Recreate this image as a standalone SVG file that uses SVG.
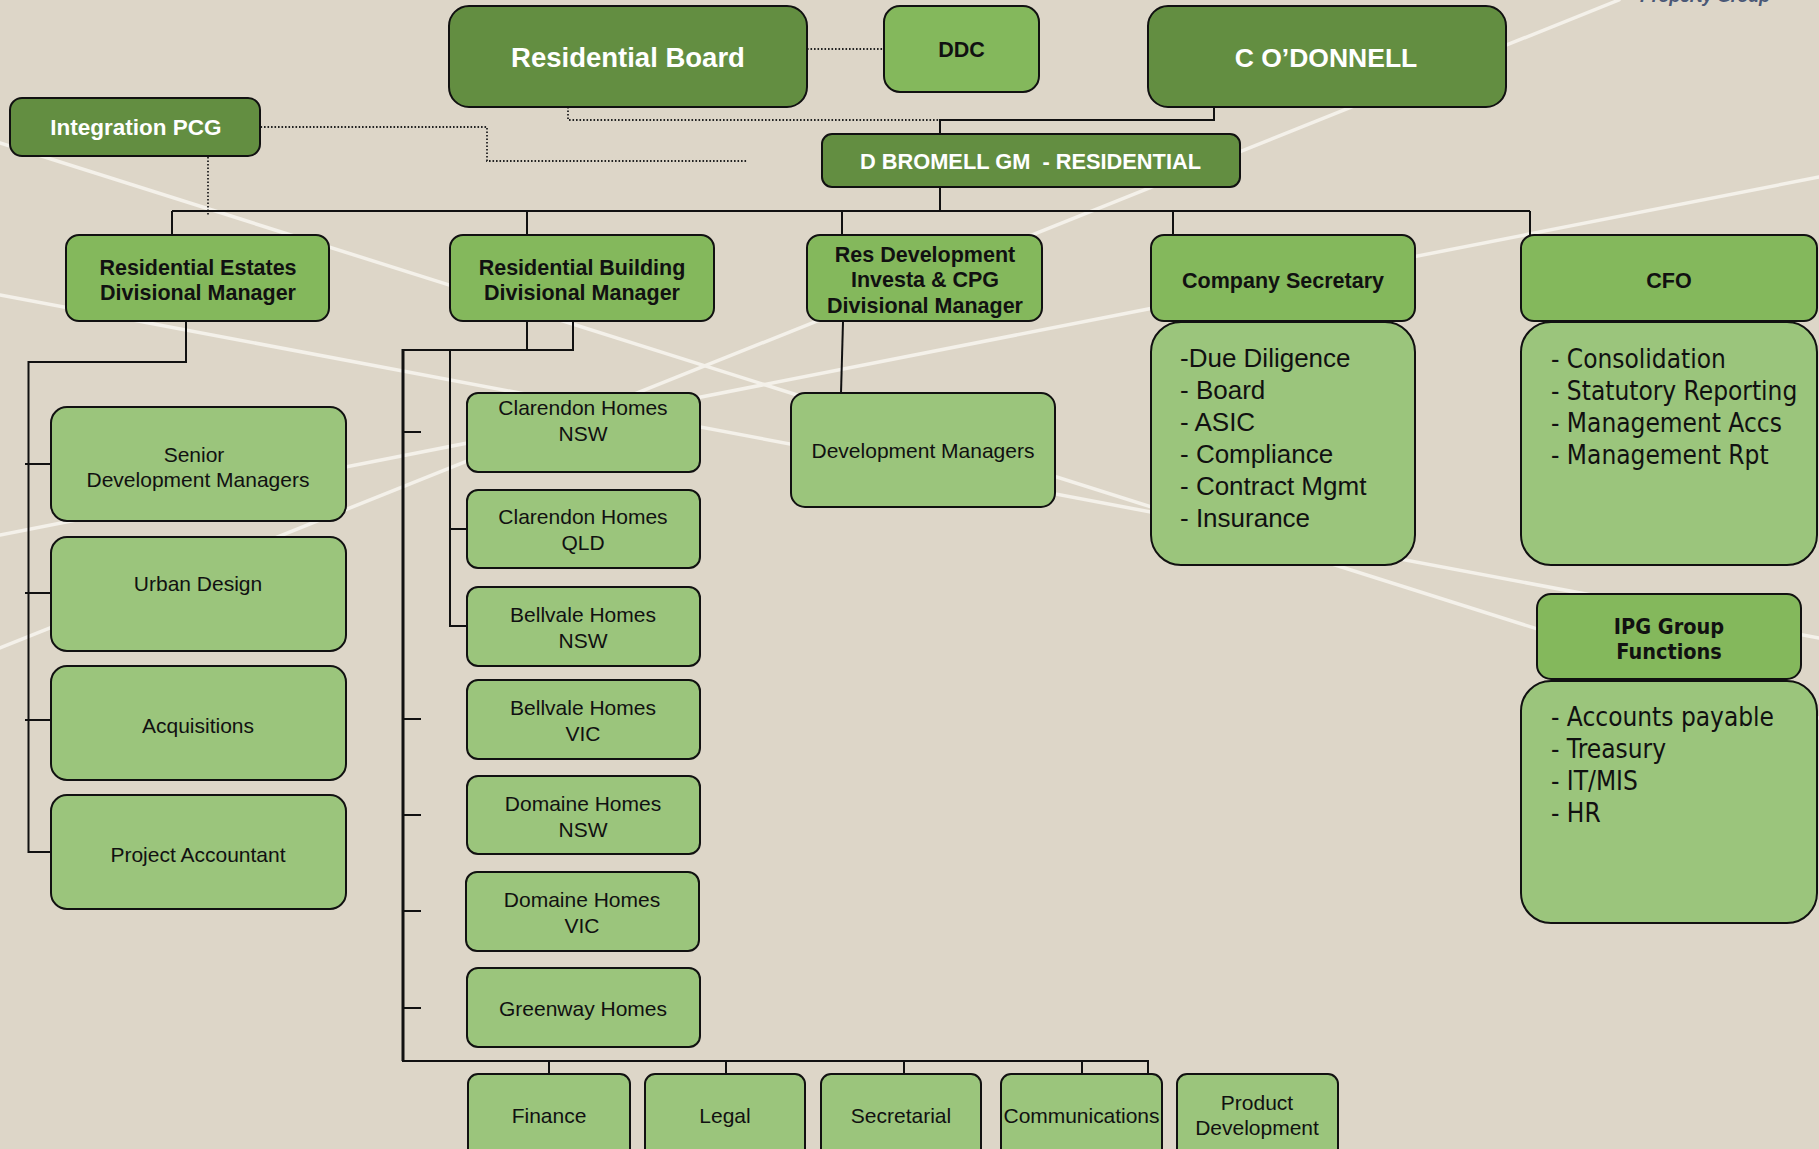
<svg xmlns="http://www.w3.org/2000/svg" width="1819" height="1149" viewBox="0 0 1819 1149">
<style>
.swoosh{stroke:#f4f1ea;stroke-width:3.5;fill:none;stroke-linecap:round}
.dark{fill:#638e41;stroke:#111;stroke-width:2}
.mid{fill:#84b85c;stroke:#111;stroke-width:2}
.light{fill:#9bc57c;stroke:#111;stroke-width:2}
.conn{stroke:#111;stroke-width:2;fill:none}
.thick{stroke:#111;stroke-width:3;fill:none}
.dot{stroke:#222;stroke-width:1.8;fill:none;stroke-dasharray:1.6 1.9}
.tw{font-family:"Liberation Sans",Arial,sans-serif;font-weight:bold;fill:#fff;text-anchor:middle}
.tb{font-family:"Liberation Sans",Arial,sans-serif;font-weight:bold;fill:#111;text-anchor:middle;font-size:21.5px}
.tr{font-family:"Liberation Sans",Arial,sans-serif;fill:#111;text-anchor:middle;font-size:21px}
.tl{font-family:"Liberation Sans",Arial,sans-serif;fill:#111;font-size:26px}
.tv{font-family:"DejaVu Sans",Verdana,sans-serif;fill:#111;font-size:26px}
.tvb{font-family:"DejaVu Sans",Verdana,sans-serif;font-weight:bold;fill:#111;font-size:21.5px;text-anchor:middle}
</style>
<rect x="0" y="0" width="1819" height="1149" fill="#ddd6c8"/>
<g id="background-lines">
<line class="swoosh" x1="0" y1="143" x2="1819" y2="718"/>
<line class="swoosh" x1="0" y1="295" x2="1819" y2="638"/>
<line class="swoosh" x1="1619" y1="0" x2="0" y2="648"/>
<line class="swoosh" x1="0" y1="535" x2="1819" y2="177"/>
</g>
<text x="1640" y="1.5" font-family="Liberation Sans, Arial, sans-serif" font-size="18" font-style="italic" font-weight="bold" fill="#4a5876" textLength="130">Property Group</text>

<g id="connectors">
<path class="conn" d="M1214,107 V120 H940 V134"/>
<path class="dot" d="M568,107 V120 H940"/>
<path class="dot" d="M807,49 H884"/>
<path class="dot" d="M229,127 H487 V161 H747"/>
<path class="dot" d="M208,157 V215"/>
<path class="conn" d="M940,187 V211"/>
<path class="conn" d="M172,211 H1530"/>
<path class="conn" d="M172,211 V235 M527,211 V235 M842,211 V235 M1173,211 V235 M1530,211 V235"/>
<path class="conn" d="M186,322 V362 H28.5 V852 H51"/>
<path class="conn" d="M25,464 H51 M25,593 H51 M25,720 H51"/>
<path class="conn" d="M527,321 V350 H403"/>
<path class="thick" d="M403,349 V1061"/>
<path class="conn" d="M402,1061 H1148 V1074"/>
<path class="conn" d="M573,321 V350 H450 V626 H467 M450,529 H467"/>
<path class="conn" d="M403,432 H421 M403,719 H421 M403,815 H421 M403,911 H421 M403,1008 H421"/>
<path class="conn" d="M549,1061 V1074 M726,1061 V1074 M904,1061 V1074 M1082,1061 V1074"/>
<path class="conn" d="M843,322 L841,393"/>
</g>

<g id="residential-board"><rect class="dark" x="449" y="6" width="358" height="101" rx="20"/><text class="tw" x="628" y="67" font-size="27.5">Residential Board</text></g>
<g id="ddc"><rect class="mid" x="884" y="6" width="155" height="86" rx="16"/><text class="tb" x="961.5" y="57" font-size="21">DDC</text></g>
<g id="c-odonnell"><rect class="dark" x="1148" y="6" width="358" height="101" rx="20"/><text class="tw" x="1326" y="67" font-size="26.5">C O’DONNELL</text></g>
<g id="integration-pcg"><rect class="dark" x="10" y="98" width="250" height="58" rx="12"/><text class="tw" x="136" y="135" font-size="22.5">Integration PCG</text></g>
<g id="d-bromell"><rect class="dark" x="822" y="134" width="418" height="53" rx="10"/><text class="tw" x="1030.5" y="169" font-size="21.8" style="white-space:pre">D BROMELL GM  - RESIDENTIAL</text></g>

<g id="res-estates"><rect class="mid" x="66" y="235" width="263" height="86" rx="13"/><text class="tb" x="198" y="275">Residential Estates</text><text class="tb" x="198" y="300">Divisional Manager</text></g>
<g id="res-building"><rect class="mid" x="450" y="235" width="264" height="86" rx="13"/><text class="tb" x="582" y="275">Residential Building</text><text class="tb" x="582" y="300">Divisional Manager</text></g>
<g id="res-development"><rect class="mid" x="807" y="235" width="235" height="86" rx="13"/><text class="tb" x="925" y="262">Res Development</text><text class="tb" x="925" y="287">Investa &amp; CPG</text><text class="tb" x="925" y="313">Divisional Manager</text></g>
<g id="company-secretary"><rect class="mid" x="1151" y="235" width="264" height="86" rx="13"/><text class="tb" x="1283" y="288">Company Secretary</text></g>
<g id="cfo"><rect class="mid" x="1521" y="235" width="296" height="86" rx="13"/><text class="tb" x="1669" y="288">CFO</text></g>

<g id="company-secretary-duties"><rect class="light" x="1151" y="322" width="264" height="243" rx="30"/>
<text class="tl" x="1180" y="367">-Due Diligence</text>
<text class="tl" x="1180" y="399">- Board</text>
<text class="tl" x="1180" y="431">- ASIC</text>
<text class="tl" x="1180" y="463">- Compliance</text>
<text class="tl" x="1180" y="495">- Contract Mgmt</text>
<text class="tl" x="1180" y="527">- Insurance</text></g>

<g id="cfo-duties"><rect class="light" x="1521" y="322" width="296" height="243" rx="30"/>
<g transform="translate(1551,0) scale(0.9,1)">
<text class="tv" x="0" y="368">- Consolidation</text>
<text class="tv" x="0" y="400">- Statutory Reporting</text>
<text class="tv" x="0" y="432">- Management Accs</text>
<text class="tv" x="0" y="464">- Management Rpt</text></g></g>

<g id="ipg-group-functions"><rect class="mid" x="1537" y="594" width="264" height="85" rx="14"/>
<g transform="translate(1669,0) scale(0.9,1)"><text class="tvb" x="0" y="634">IPG Group</text><text class="tvb" x="0" y="659">Functions</text></g></g>
<g id="ipg-duties"><rect class="light" x="1521" y="681" width="296" height="242" rx="30"/>
<g transform="translate(1551,0) scale(0.9,1)">
<text class="tv" x="0" y="726">- Accounts payable</text>
<text class="tv" x="0" y="758">- Treasury</text>
<text class="tv" x="0" y="790">- IT/MIS</text>
<text class="tv" x="0" y="822">- HR</text></g></g>

<g id="development-managers"><rect class="light" x="791" y="393" width="264" height="114" rx="14"/><text class="tr" x="923" y="458">Development Managers</text></g>

<g id="senior-dm"><rect class="light" x="51" y="407" width="295" height="114" rx="16"/><text class="tr" x="194" y="462">Senior</text><text class="tr" x="198" y="487">Development Managers</text></g>
<g id="urban-design"><rect class="light" x="51" y="537" width="295" height="114" rx="16"/><text class="tr" x="198" y="591">Urban Design</text></g>
<g id="acquisitions"><rect class="light" x="51" y="666" width="295" height="114" rx="16"/><text class="tr" x="198" y="733">Acquisitions</text></g>
<g id="project-accountant"><rect class="light" x="51" y="795" width="295" height="114" rx="16"/><text class="tr" x="198" y="862">Project Accountant</text></g>

<g id="clarendon-nsw"><rect class="light" x="467" y="393" width="233" height="79" rx="11"/><text class="tr" x="583" y="415">Clarendon Homes</text><text class="tr" x="583" y="441">NSW</text></g>
<g id="clarendon-qld"><rect class="light" x="467" y="490" width="233" height="78" rx="11"/><text class="tr" x="583" y="524">Clarendon Homes</text><text class="tr" x="583" y="550">QLD</text></g>
<g id="bellvale-nsw"><rect class="light" x="467" y="587" width="233" height="79" rx="11"/><text class="tr" x="583" y="622">Bellvale Homes</text><text class="tr" x="583" y="648">NSW</text></g>
<g id="bellvale-vic"><rect class="light" x="467" y="680" width="233" height="79" rx="11"/><text class="tr" x="583" y="715">Bellvale Homes</text><text class="tr" x="583" y="741">VIC</text></g>
<g id="domaine-nsw"><rect class="light" x="467" y="776" width="233" height="78" rx="11"/><text class="tr" x="583" y="811">Domaine Homes</text><text class="tr" x="583" y="837">NSW</text></g>
<g id="domaine-vic"><rect class="light" x="466" y="872" width="233" height="79" rx="11"/><text class="tr" x="582" y="907">Domaine Homes</text><text class="tr" x="582" y="933">VIC</text></g>
<g id="greenway-homes"><rect class="light" x="467" y="968" width="233" height="79" rx="11"/><text class="tr" x="583" y="1016">Greenway Homes</text></g>

<g id="finance"><rect class="light" x="468" y="1074" width="162" height="100" rx="10"/><text class="tr" x="549" y="1123">Finance</text></g>
<g id="legal"><rect class="light" x="645" y="1074" width="160" height="100" rx="10"/><text class="tr" x="725" y="1123">Legal</text></g>
<g id="secretarial"><rect class="light" x="821" y="1074" width="160" height="100" rx="10"/><text class="tr" x="901" y="1123">Secretarial</text></g>
<g id="communications"><rect class="light" x="1001" y="1074" width="161" height="100" rx="10"/><text class="tr" x="1081.5" y="1123" textLength="156">Communications</text></g>
<g id="product-development"><rect class="light" x="1177" y="1074" width="161" height="100" rx="10"/><text class="tr" x="1257" y="1110">Product</text><text class="tr" x="1257" y="1135">Development</text></g>
</svg>
